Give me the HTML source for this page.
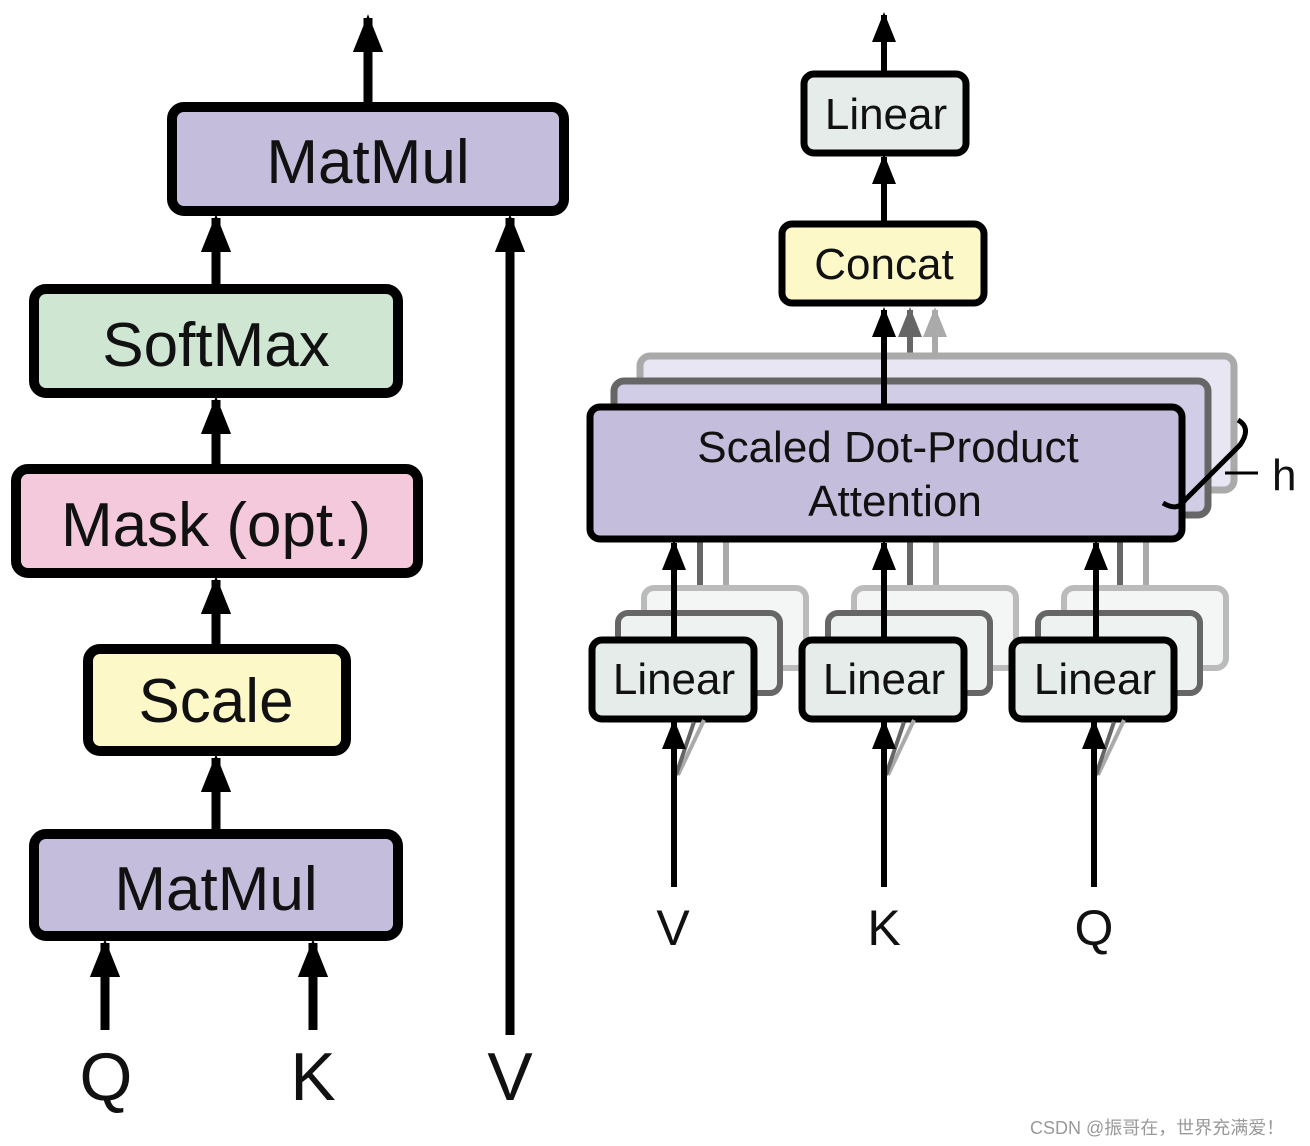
<!DOCTYPE html>
<html><head><meta charset="utf-8"><style>
html,body{margin:0;padding:0;background:#fff;}
svg{display:block;}
text{font-family:"Liberation Sans","Noto Sans CJK SC",sans-serif;fill:#111;}
</style></head><body>
<svg width="1310" height="1146" viewBox="0 0 1310 1146" xmlns="http://www.w3.org/2000/svg">
<defs>
<marker id="ah" viewBox="0 0 10 10" refX="9" refY="5" markerWidth="4.2" markerHeight="4.2" orient="auto-start-reverse" markerUnits="strokeWidth"><path d="M0,1 L10,5 L0,9 Z" fill="#000"/></marker>
<marker id="ahs" viewBox="0 0 10 10" refX="9" refY="5" markerWidth="5" markerHeight="5" orient="auto" markerUnits="strokeWidth"><path d="M0,1 L10,5 L0,9 Z" fill="#000"/></marker>
<marker id="ahg" viewBox="0 0 10 10" refX="9" refY="5" markerWidth="5" markerHeight="5" orient="auto" markerUnits="strokeWidth"><path d="M0,1 L10,5 L0,9 Z" fill="#666"/></marker>
<marker id="ahl" viewBox="0 0 10 10" refX="9" refY="5" markerWidth="5" markerHeight="5" orient="auto" markerUnits="strokeWidth"><path d="M0,1 L10,5 L0,9 Z" fill="#aaa"/></marker>
</defs>
<!-- LEFT -->
<g stroke="#000" stroke-width="9" fill="none">
<line x1="368" y1="103" x2="368" y2="18" marker-end="url(#ah)"/>
<line x1="216" y1="285" x2="216" y2="218" marker-end="url(#ah)"/>
<line x1="216" y1="465" x2="216" y2="400" marker-end="url(#ah)"/>
<line x1="216" y1="645" x2="216" y2="580" marker-end="url(#ah)"/>
<line x1="216" y1="830" x2="216" y2="758" marker-end="url(#ah)"/>
<line x1="105" y1="1030" x2="105" y2="943" marker-end="url(#ah)"/>
<line x1="313" y1="1030" x2="313" y2="943" marker-end="url(#ah)"/>
<line x1="510" y1="1035" x2="510" y2="218" marker-end="url(#ah)"/>
</g>
<g stroke="#000" stroke-width="10">
<rect x="172" y="107" width="392" height="104" rx="12" fill="#c4bedc"/>
<rect x="34" y="289" width="364" height="104" rx="12" fill="#cfe6d2"/>
<rect x="16" y="469" width="402" height="104" rx="12" fill="#f5c9dc"/>
<rect x="88" y="649" width="258" height="102" rx="12" fill="#fcf8c7"/>
<rect x="34" y="834" width="364" height="102" rx="12" fill="#c4bedc"/>
</g>
<g font-size="62" text-anchor="middle">
<text x="368" y="183">MatMul</text>
<text x="216" y="366">SoftMax</text>
<text x="216" y="546">Mask (opt.)</text>
<text x="216" y="722">Scale</text>
<text x="216" y="910">MatMul</text>
</g>
<g font-size="68" text-anchor="middle">
<text x="106" y="1100">Q</text>
<text x="313" y="1100">K</text>
<text x="510" y="1100">V</text>
</g>
<!-- RIGHT -->
<!-- top linear & concat -->
<g stroke="#000" stroke-width="6" fill="none">
<line x1="884" y1="72" x2="884" y2="15" marker-end="url(#ahs)"/>
<line x1="884" y1="222" x2="884" y2="157" marker-end="url(#ahs)"/>
</g>
<rect x="804" y="74" width="162" height="79" rx="10" fill="#e6ece9" stroke="#000" stroke-width="7"/>
<rect x="782" y="224" width="202" height="79" rx="10" fill="#fcf8c7" stroke="#000" stroke-width="7"/>
<g font-size="44" text-anchor="middle">
<text x="886" y="129">Linear</text>
<text x="884" y="279">Concat</text>
</g>
<!-- attention stack arrows (back) -->
<line x1="935" y1="355" x2="935" y2="310" stroke="#aaa" stroke-width="6" marker-end="url(#ahl)"/>
<line x1="910" y1="380" x2="910" y2="310" stroke="#666" stroke-width="6" marker-end="url(#ahg)"/>
<rect x="640" y="356" width="594" height="134" rx="10" fill="#e8e6f2" stroke="#aaa" stroke-width="7"/>
<rect x="614" y="381" width="594" height="134" rx="10" fill="#d2cde6" stroke="#666" stroke-width="7"/>
<!-- input gray lines behind -->
<g stroke-width="6">
<line x1="726" y1="590" x2="726" y2="540" stroke="#aaa"/><line x1="700" y1="615" x2="700" y2="540" stroke="#666"/>
<line x1="936" y1="590" x2="936" y2="540" stroke="#aaa"/><line x1="910" y1="615" x2="910" y2="540" stroke="#666"/>
<line x1="1146" y1="590" x2="1146" y2="540" stroke="#aaa"/><line x1="1120" y1="615" x2="1120" y2="540" stroke="#666"/>
</g>
<line x1="884" y1="405" x2="884" y2="310" stroke="#000" stroke-width="6" marker-end="url(#ahs)"/>
<rect x="590" y="407" width="592" height="132" rx="10" fill="#c4bedc" stroke="#000" stroke-width="7"/>
<g font-size="44" text-anchor="middle">
<text x="888" y="462">Scaled Dot-Product</text>
<text x="895" y="516">Attention</text>
</g>
<path d="M1238,420 Q1252,428 1240,445 L1185,500 Q1178,512 1163,503" stroke="#000" stroke-width="5" fill="none"/>
<line x1="1225" y1="473" x2="1258" y2="473" stroke="#000" stroke-width="3"/>
<text x="1272" y="490" font-size="44">h</text>
<!-- linear stacks -->
<g>
<g id="lin">
<line x1="630" y1="722" x2="700" y2="722" stroke="none"/>
</g>
</g>
<g stroke-width="6">
<rect x="644" y="588" width="162" height="80" rx="10" fill="#f4f6f5" stroke="#bbb"/>
<rect x="618" y="613" width="162" height="80" rx="10" fill="#eef2f0" stroke="#666"/>
<rect x="854" y="588" width="162" height="80" rx="10" fill="#f4f6f5" stroke="#bbb"/>
<rect x="828" y="613" width="162" height="80" rx="10" fill="#eef2f0" stroke="#666"/>
<rect x="1064" y="588" width="162" height="80" rx="10" fill="#f4f6f5" stroke="#bbb"/>
<rect x="1038" y="613" width="162" height="80" rx="10" fill="#eef2f0" stroke="#666"/>
</g>
<g stroke="#000" stroke-width="6" fill="none">
<line x1="674" y1="638" x2="674" y2="543" marker-end="url(#ahs)"/>
<line x1="884" y1="638" x2="884" y2="543" marker-end="url(#ahs)"/>
<line x1="1096" y1="638" x2="1096" y2="543" marker-end="url(#ahs)"/>
</g>
<g stroke="#000" stroke-width="7" fill="#e6ece9">
<rect x="592" y="640" width="162" height="79" rx="10"/>
<rect x="802" y="640" width="162" height="79" rx="10"/>
<rect x="1012" y="640" width="162" height="79" rx="10"/>
</g>
<g font-size="44" text-anchor="middle">
<text x="674" y="694">Linear</text>
<text x="884" y="694">Linear</text>
<text x="1095" y="694">Linear</text>
</g>
<g stroke-width="4">
<line x1="678" y1="775" x2="704" y2="720" stroke="#aaa"/><line x1="676" y1="775" x2="694" y2="722" stroke="#666"/>
<line x1="888" y1="775" x2="914" y2="720" stroke="#aaa"/><line x1="886" y1="775" x2="904" y2="722" stroke="#666"/>
<line x1="1098" y1="775" x2="1124" y2="720" stroke="#aaa"/><line x1="1096" y1="775" x2="1114" y2="722" stroke="#666"/>
</g>
<g stroke="#000" stroke-width="6" fill="none">
<line x1="674" y1="887" x2="674" y2="722" marker-end="url(#ahs)"/>
<line x1="884" y1="887" x2="884" y2="722" marker-end="url(#ahs)"/>
<line x1="1094" y1="887" x2="1094" y2="722" marker-end="url(#ahs)"/>
</g>
<g font-size="50" text-anchor="middle">
<text x="673" y="945">V</text>
<text x="884" y="945">K</text>
<text x="1094" y="945">Q</text>
</g>
<text x="1030" y="1134" font-size="18" style="fill:#999">CSDN @振哥在，世界充满爱！</text>
</svg>
</body></html>
